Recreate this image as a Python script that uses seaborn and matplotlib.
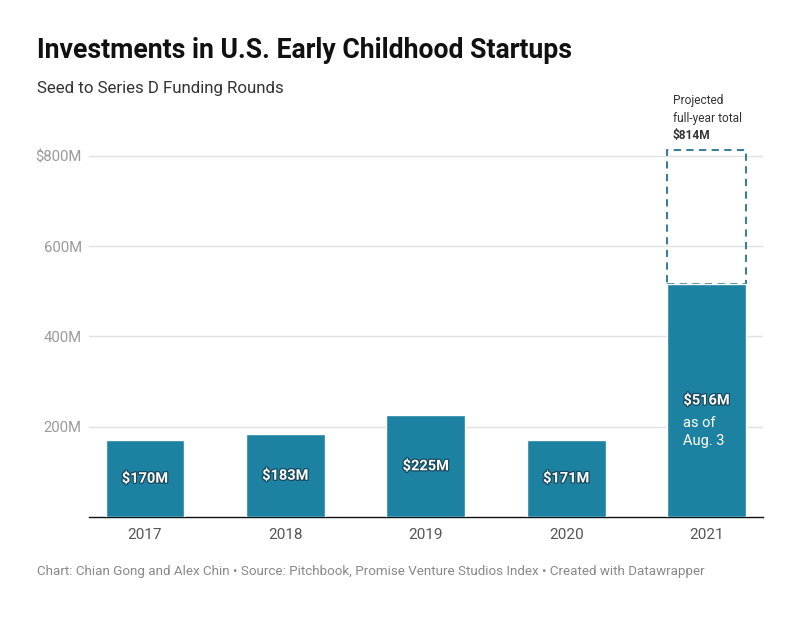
import seaborn as sns
import matplotlib.pyplot as plt
import matplotlib.patheffects as pe
import pandas as pd

years = ['2017', '2018', '2019', '2020', '2021']
funding = [170, 183, 225, 171, 516]
bar_labels = ['$170M', '$183M', '$225M', '$171M', '$516M']
projected_year = '2021'
projected_total = 814
y_ticks = [200, 400, 600, 800]
y_tick_labels = ['200M', '400M', '600M', '$800M']

bar_color = '#1d81a2'

sns.set_theme(style='white')
plt.rcParams['font.family'] = ['Roboto', 'DejaVu Sans']

df = pd.DataFrame({'year': years, 'funding': funding})

fig = plt.figure(figsize=(8, 6.18), dpi=100)
ax = fig.add_axes([0.111, 0.1634, 0.8425, 0.6575])

sns.barplot(data=df, x='year', y='funding', color=bar_color, saturation=1,
            width=0.56, ax=ax, zorder=3)

# projected full-year outline (bottom edge hidden under the bar)
idx = years.index(projected_year)
last = funding[idx]
ax.bar(idx, projected_total - last, bottom=last, width=0.56, fill=False,
       edgecolor='#1f7394', linestyle=(0, (4, 3)), linewidth=1.3, zorder=2)

# labels inside bars
stroke = [pe.withStroke(linewidth=1.8, foreground='#164a5e')]
for i, (v, lab) in enumerate(zip(funding, bar_labels)):
    ax.text(i, v / 2, lab, ha='center', va='center', color='white',
            fontsize=10.5, fontweight='bold', path_effects=stroke, zorder=4)
ax.text(idx - 0.165, 208, 'as of', ha='left', va='center',
        color='white', fontsize=10.5, zorder=4)
ax.text(idx - 0.165, 168, 'Aug. 3', ha='left', va='center',
        color='white', fontsize=10.5, zorder=4)

# projection note above the dashed box
ax.text(idx - 0.24, 923, 'Projected', ha='left', va='center',
        color='#333333', fontsize=8.6, clip_on=False)
ax.text(idx - 0.24, 883, 'full-year total', ha='left', va='center',
        color='#333333', fontsize=8.6, clip_on=False)
ax.text(idx - 0.24, 844, f'${projected_total}M', ha='left', va='center',
        color='#333333', fontsize=8.6, fontweight='bold', clip_on=False)

ax.set_xlim(-0.4, 4.4)
ax.set_ylim(0, 900)
ax.set_yticks(y_ticks)
ax.set_yticklabels(y_tick_labels)
ax.yaxis.grid(True, color='#e2e2e2', linewidth=1, zorder=0)
ax.set_axisbelow(True)
ax.tick_params(axis='y', length=0, pad=5, labelsize=10.7, labelcolor='#9a9a9a')
ax.tick_params(axis='x', length=0, pad=8, labelsize=11, labelcolor='#555555')
ax.set_xlabel('')
ax.set_ylabel('')
for s in ['top', 'right', 'left']:
    ax.spines[s].set_visible(False)
ax.spines['bottom'].set_color('#111111')
ax.spines['bottom'].set_linewidth(1)

fig.text(37 / 800, 1 - 50 / 618, 'Investments in U.S. Early Childhood Startups',
         ha='left', va='center', fontsize=19.2, fontweight='bold', color='#111111')
fig.text(37 / 800, 1 - 88 / 618, 'Seed to Series D Funding Rounds',
         ha='left', va='center', fontsize=12.2, color='#333333')
fig.text(37 / 800, 1 - 571 / 618,
         'Chart: Chian Gong and Alex Chin \u2022 Source: Pitchbook, Promise Venture Studios Index \u2022 Created with Datawrapper',
         ha='left', va='center', fontsize=9.6, color='#888888')

fig.savefig('out.png', dpi=100, facecolor='white')
